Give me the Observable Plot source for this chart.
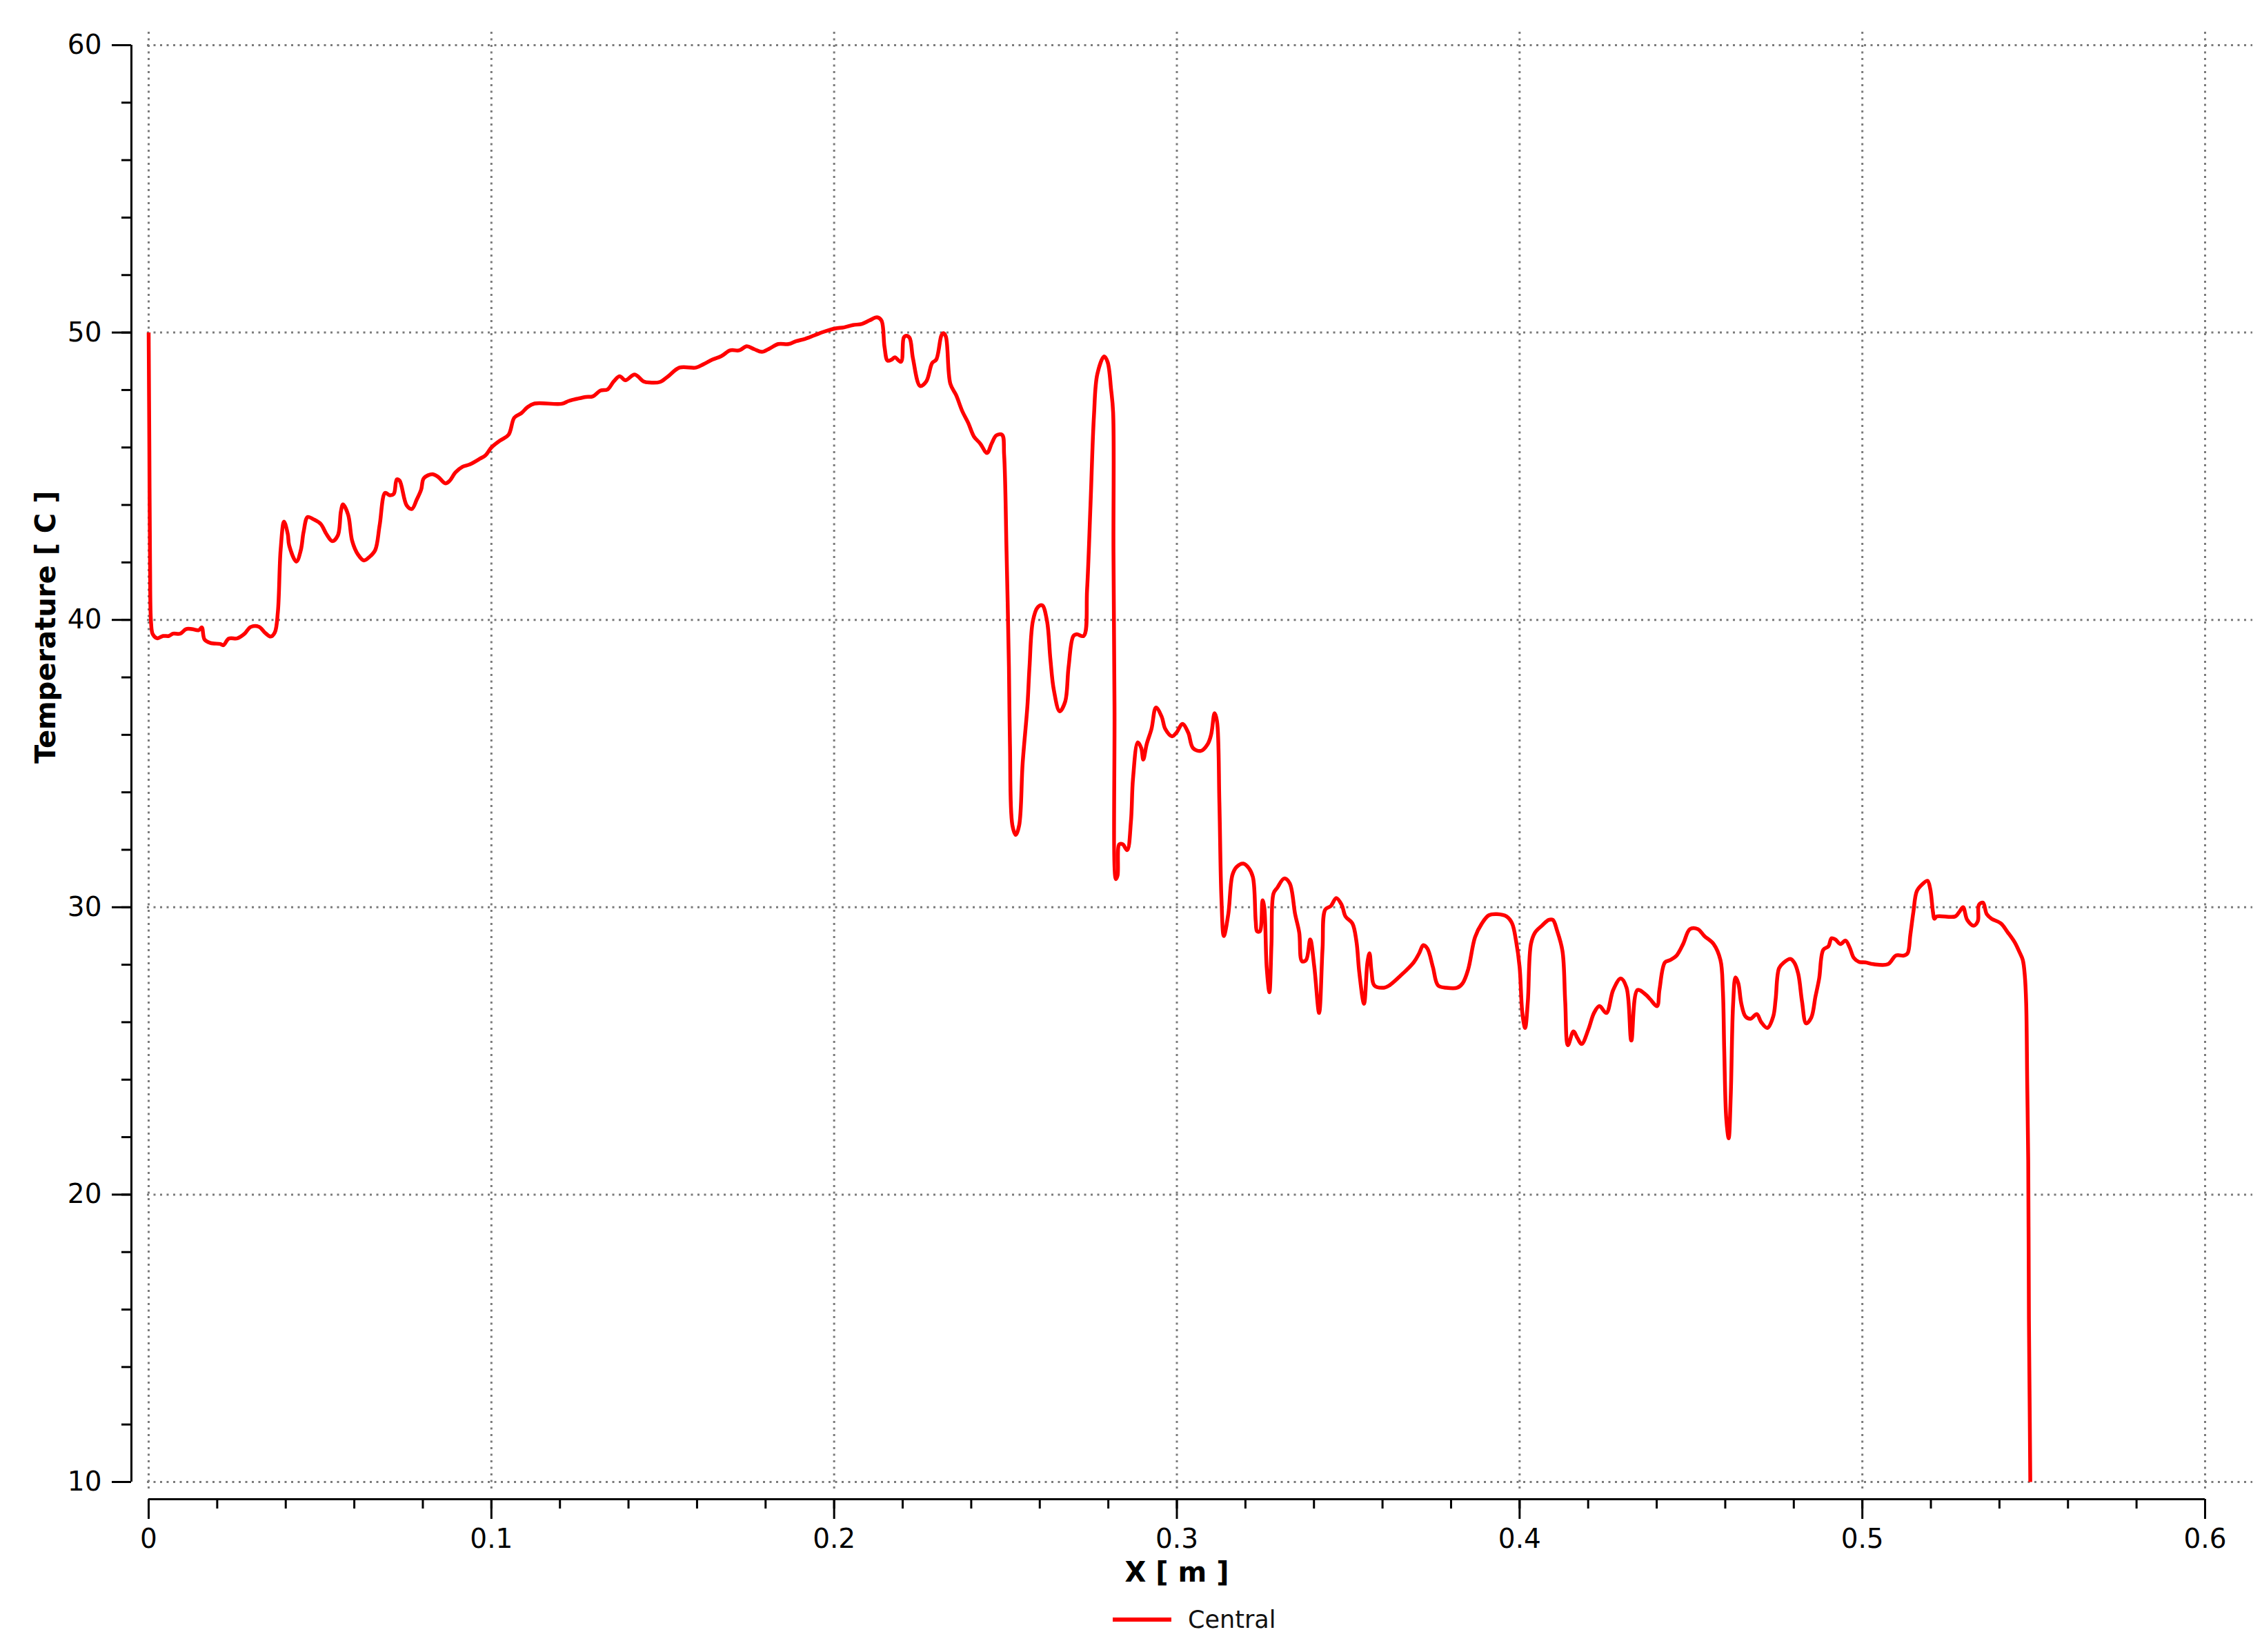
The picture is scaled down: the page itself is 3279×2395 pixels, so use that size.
<!DOCTYPE html>
<html>
<head>
<meta charset="utf-8">
<script src="https://cdn.jsdelivr.net/npm/d3@7"></script>
<script src="https://cdn.jsdelivr.net/npm/@observablehq/plot@0.6"></script>
<style>
  html, body { margin: 0; padding: 0; background: #fff; }
  #chart svg { display: block; }
  #legend { position: relative; width: 3279px; height: 75px; font-family: "DejaVu Sans", sans-serif; }
  #legend .swatch { position: absolute; left: 1613px; top: 25px; width: 85px; height: 6px; background: #ff0000; }
  #legend .label { position: absolute; left: 1722px; top: 8px; font-size: 35px; line-height: 40px; color: #111; }
</style>
</head>
<body>
<div id="chart"></div>
<div id="legend"></div>
<script>
// ---- Data (X [m], Temperature [C]) ----
const seriesNames = ["Central"];
const xTitle = "X [ m ]";
const yTitle = "Temperature [ C ]";

const xMajorTicks = [0, 0.1, 0.2, 0.3, 0.4, 0.5, 0.6];
const xMinorTicks = d3.range(0, 31).map(i => +(i * 0.02).toFixed(2));
const yMajorTicks = [10, 20, 30, 40, 50, 60];
const yMinorTicks = d3.range(10, 61, 2);

const inletSection = [
  [0, 50], [0.0002, 46.0], [0.0004, 42.0], [0.0007, 39.9], [0.0012, 39.5], [0.0025, 39.36], [0.0042, 39.44],
  [0.0059, 39.44], [0.0071, 39.52],
  [0.0092, 39.52], [0.0109, 39.68], [0.0126, 39.68], [0.0146, 39.64], [0.0155, 39.74], [0.0163, 39.32],
  [0.018, 39.2], [0.0209, 39.16], [0.0218, 39.12], [0.0234, 39.35], [0.0259, 39.36], [0.028, 39.52],
  [0.0297, 39.75], [0.0322, 39.76], [0.0339, 39.56], [0.0356, 39.42], [0.0368, 39.56], [0.0377, 40.28],
  [0.0385, 42.43], [0.0395, 43.42], [0.0406, 42.98], [0.041, 42.59], [0.0431, 42.03], [0.0444, 42.43],
  [0.0452, 43.06], [0.0464, 43.58], [0.0481, 43.5], [0.0502, 43.34], [0.0519, 42.98], [0.0536, 42.74],
  [0.0552, 42.94], [0.0561, 43.78], [0.0567, 44.02], [0.0582, 43.66], [0.0594, 42.74], [0.0611, 42.27],
  [0.0628, 42.07], [0.0644, 42.19], [0.0661, 42.43], [0.0674, 43.3], [0.069, 44.42], [0.0703, 44.34],
  [0.0715, 44.38], [0.0724, 44.89], [0.0732, 44.85], [0.0753, 43.98], [0.0768, 43.86], [0.0782, 44.18],
  [0.0795, 44.53], [0.0803, 44.93], [0.0828, 45.07], [0.0845, 44.97], [0.0866, 44.75], [0.0879, 44.85],
  [0.0895, 45.13], [0.0916, 45.33], [0.0937, 45.41], [0.0967, 45.61], [0.0983, 45.73], [0.1, 46.0],
  [0.1025, 46.24], [0.105, 46.44], [0.1067, 47.04], [0.1088, 47.2], [0.1105, 47.4], [0.1126, 47.53],
  [0.1205, 47.52], [0.1226, 47.62], [0.1252, 47.7], [0.1276, 47.76]
];

const risingSection = [
  [0.1296, 47.78], [0.1318, 47.98], [0.1339, 48.02], [0.1357, 48.3], [0.1374, 48.48], [0.1391, 48.34],
  [0.1418, 48.54], [0.1444, 48.3], [0.1461, 48.26], [0.1492, 48.28], [0.1514, 48.46], [0.1549, 48.78],
  [0.1597, 48.78], [0.1619, 48.9], [0.1645, 49.06], [0.1671, 49.18], [0.1697, 49.38], [0.1723, 49.38],
  [0.1745, 49.52], [0.1767, 49.42], [0.1789, 49.33], [0.1811, 49.44], [0.1837, 49.6], [0.1867, 49.6],
  [0.1889, 49.7], [0.1915, 49.78], [0.1942, 49.9], [0.1968, 50.02], [0.2003, 50.14], [0.2029, 50.18],
  [0.2055, 50.26], [0.2081, 50.3], [0.2103, 50.42], [0.2125, 50.53], [0.2138, 50.42], [0.2147, 49.5],
  [0.2156, 49.02], [0.2168, 49.06], [0.2177, 49.14], [0.2195, 48.98], [0.2203, 49.82], [0.221, 49.89],
  [0.222, 49.82], [0.223, 49.1], [0.2251, 48.14], [0.2269, 48.3], [0.2286, 48.94], [0.2298, 49.06],
  [0.2313, 49.9], [0.2319, 49.98], [0.2326, 49.86], [0.2339, 48.22], [0.2356, 47.82], [0.2374, 47.26],
  [0.2391, 46.86], [0.2408, 46.38], [0.2426, 46.14], [0.2446, 45.81], [0.246, 46.15], [0.2473, 46.42],
  [0.249, 46.44], [0.2496, 45.74]
];

const dropSection = [
  [0.2503, 42.39], [0.251, 38.36], [0.2513, 35.68], [0.252, 32.86], [0.253, 32.52], [0.254, 32.86],
  [0.255, 35.01], [0.2564, 37.02], [0.257, 38.36], [0.258, 39.97], [0.2594, 40.44], [0.2607, 40.51],
  [0.2621, 39.97], [0.2631, 38.63], [0.2641, 37.56], [0.2658, 36.82], [0.2674, 37.15], [0.2684, 38.36],
  [0.2698, 39.44], [0.2708, 39.5], [0.2728, 39.44], [0.2738, 41.05], [0.2748, 44.0], [0.2758, 47.09],
  [0.2768, 48.56], [0.2788, 49.17], [0.2798, 48.97], [0.2808, 48.03], [0.2814, 47.22], [0.2815, 42.39],
  [0.2818, 37.02], [0.2822, 30.98], [0.2827, 31.11], [0.2832, 32.19], [0.2842, 32.19], [0.2855, 31.99],
  [0.2866, 32.99], [0.2872, 34.47], [0.2886, 35.74], [0.2896, 35.54], [0.2902, 35.14], [0.2912, 35.68],
  [0.2926, 36.21], [0.2939, 36.95], [0.2956, 36.62], [0.2966, 36.21], [0.2986, 35.95], [0.2999, 36.08],
  [0.3016, 36.38], [0.3033, 36.08], [0.3047, 35.54], [0.307, 35.44], [0.309, 35.68], [0.31, 36.01],
  [0.311, 36.75], [0.3117, 36.48], [0.3124, 33.66], [0.313, 30.31], [0.3137, 29.0]
];

const plateauSection = [
  [0.315, 29.76], [0.3162, 31.12], [0.3174, 31.4], [0.3194, 31.52], [0.321, 31.36], [0.3222, 31.04],
  [0.323, 29.52], [0.3234, 29.16], [0.3242, 29.16], [0.325, 30.24], [0.3255, 30.0], [0.3262, 27.92],
  [0.327, 27.04], [0.3276, 28.72], [0.3282, 30.48], [0.3293, 30.68], [0.3313, 31.0], [0.3329, 30.84],
  [0.3345, 29.76], [0.3357, 29.12], [0.3365, 28.12], [0.3377, 28.16], [0.3389, 28.88], [0.3401, 27.92],
  [0.3415, 26.32], [0.3425, 28.56], [0.3433, 29.92], [0.3449, 30.04], [0.3465, 30.32], [0.3481, 30.08],
  [0.3492, 29.68], [0.3512, 29.44], [0.3524, 28.8], [0.3532, 27.76], [0.3546, 26.64], [0.3556, 28.08],
  [0.3562, 28.4], [0.3568, 27.76], [0.3576, 27.28], [0.3604, 27.2], [0.362, 27.28], [0.3651, 27.6],
  [0.3691, 28.08], [0.3707, 28.4], [0.3719, 28.68], [0.3731, 28.56], [0.3747, 27.92], [0.3762, 27.28],
  [0.3786, 27.2], [0.3818, 27.2], [0.3834, 27.36], [0.385, 27.84], [0.387, 28.96], [0.389, 29.44],
  [0.391, 29.72], [0.3934, 29.76], [0.3962, 29.68], [0.3978, 29.44], [0.399, 28.8], [0.4, 27.92],
  [0.4008, 26.32], [0.4016, 25.8], [0.4024, 26.72], [0.4033, 28.72], [0.4045, 29.12], [0.4065, 29.36],
  [0.4085, 29.56], [0.4097, 29.56], [0.4109, 29.2], [0.4125, 28.48], [0.4133, 26.72], [0.4141, 25.2],
  [0.4157, 25.68], [0.4169, 25.44], [0.4181, 25.24], [0.4201, 25.76], [0.4217, 26.32], [0.4233, 26.56],
  [0.4253, 26.32], [0.4273, 27.12], [0.4295, 27.52], [0.4312, 27.2], [0.4326, 25.36], [0.4344, 27.12],
  [0.4368, 26.96], [0.4381, 26.8]
];

const outletSection = [
  [0.4401, 26.56], [0.4408, 27.12], [0.4424, 28.08], [0.4439, 28.16], [0.4458, 28.32], [0.4477, 28.72],
  [0.4497, 29.24], [0.452, 29.24], [0.4539, 29.0], [0.4566, 28.72], [0.4586, 28.16], [0.4593, 27.12],
  [0.4597, 25.04], [0.4603, 22.64], [0.461, 21.96], [0.4616, 23.44], [0.4623, 26.64], [0.463, 27.56],
  [0.4638, 27.36], [0.4647, 26.64], [0.4659, 26.2], [0.4674, 26.12], [0.4692, 26.28], [0.4705, 26.0],
  [0.4723, 25.8], [0.474, 26.2], [0.4747, 26.8], [0.4757, 27.88], [0.4771, 28.08], [0.479, 28.2],
  [0.4801, 28.08], [0.4813, 27.68], [0.4824, 26.72], [0.4836, 25.96], [0.4851, 26.16], [0.4863, 26.88],
  [0.4874, 27.52], [0.4886, 28.52], [0.4901, 28.64], [0.491, 28.92], [0.4921, 28.88], [0.4936, 28.72],
  [0.4951, 28.84], [0.4963, 28.6], [0.4975, 28.24], [0.499, 28.1], [0.5009, 28.08], [0.5032, 28.02],
  [0.5075, 28.02], [0.5098, 28.32], [0.5121, 28.32], [0.5132, 28.4], [0.514, 29.04], [0.5149, 29.84],
  [0.5159, 30.56], [0.5175, 30.8], [0.519, 30.92], [0.5198, 30.64], [0.5206, 29.84], [0.521, 29.6],
  [0.5217, 29.68], [0.5271, 29.68], [0.5283, 29.84], [0.5294, 30.0], [0.5306, 29.56], [0.5325, 29.36],
  [0.5337, 29.52], [0.534, 30.08], [0.5352, 30.16], [0.5363, 29.76]
];

const wallSection = [
  [0.5377, 29.6], [0.5404, 29.44], [0.5424, 29.13], [0.5444, 28.79], [0.5458, 28.45], [0.5468, 28.17],
  [0.5474, 27.62], [0.5478, 26.66], [0.5481, 23.91], [0.5484, 21.17], [0.5486, 15.67], [0.5488, 12.92],
  [0.549, 10.0]
];

const profile = [inletSection, risingSection, dropSection, plateauSection, outletSection, wallSection]
  .flat()
  .map(([x, t]) => ({x, t, series: seriesNames[0]}));

// ---- Chart ----
const W = 3279, H = 2320;
const gridStyle = {stroke: "#7a7a7a", strokeWidth: 3, strokeDasharray: "3 6.5"};
const font = "DejaVu Sans, sans-serif";

const chart = Plot.plot({
  width: W,
  height: H,
  marginLeft: 215,
  marginRight: 83,
  marginTop: 65,
  marginBottom: H - 2148,
  x: {domain: [0, 0.6], label: null},
  y: {domain: [10, 60], label: null},
  style: {fontFamily: font, background: "#fff", color: "#000", overflow: "visible"},
  marks: [
    // dotted grid (extends slightly past the frame as in the reference)
    Plot.ruleX(xMajorTicks, {y1: 9.76, y2: 60.48, ...gridStyle}),
    Plot.ruleY(yMajorTicks, {x1: -0.0004, x2: 0.6139, ...gridStyle}),
    // detached axis lines
    Plot.ruleX([0], {y1: 10, y2: 60, dx: -25, stroke: "#000", strokeWidth: 3}),
    Plot.ruleY([10], {x1: 0, x2: 0.6, dy: 25, stroke: "#000", strokeWidth: 3}),
    // y axis ticks
    Plot.axisY(yMinorTicks, {anchor: "left", tickSize: 14, text: null, dx: -25, strokeWidth: 3, label: null}),
    Plot.axisY(yMajorTicks, {anchor: "left", tickSize: 28, tickPadding: 15, dx: -25, strokeWidth: 3,
      tickFormat: d => String(d), fontSize: 39, label: null}),
    // x axis ticks
    Plot.axisX(xMinorTicks, {anchor: "bottom", tickSize: 14, text: null, dy: 25, strokeWidth: 3, label: null}),
    Plot.axisX(xMajorTicks, {anchor: "bottom", tickSize: 29, tickPadding: 14, dy: 25, strokeWidth: 3,
      tickFormat: d => String(d), fontSize: 39, label: null}),
    // data
    Plot.line(profile, {x: "x", y: "t", stroke: "#ff0000", strokeWidth: 5.5, curve: "catmull-rom",
      strokeLinejoin: "round", strokeLinecap: "butt"}),
    // axis titles
    Plot.text([yTitle], {frameAnchor: "left", rotate: -90, dx: -148, fontWeight: "bold", fontSize: 40, fill: "#000"}),
    Plot.text([xTitle], {frameAnchor: "bottom", dy: 144, fontWeight: "bold", fontSize: 40, fill: "#000"})
  ]
});
document.getElementById("chart").appendChild(chart);

// ---- Legend (below the SVG) ----
const legend = document.getElementById("legend");
seriesNames.forEach(name => {
  const sw = document.createElement("div");
  sw.className = "swatch";
  const lb = document.createElement("span");
  lb.className = "label";
  lb.textContent = name;
  legend.appendChild(sw);
  legend.appendChild(lb);
});
</script>
</body>
</html>
